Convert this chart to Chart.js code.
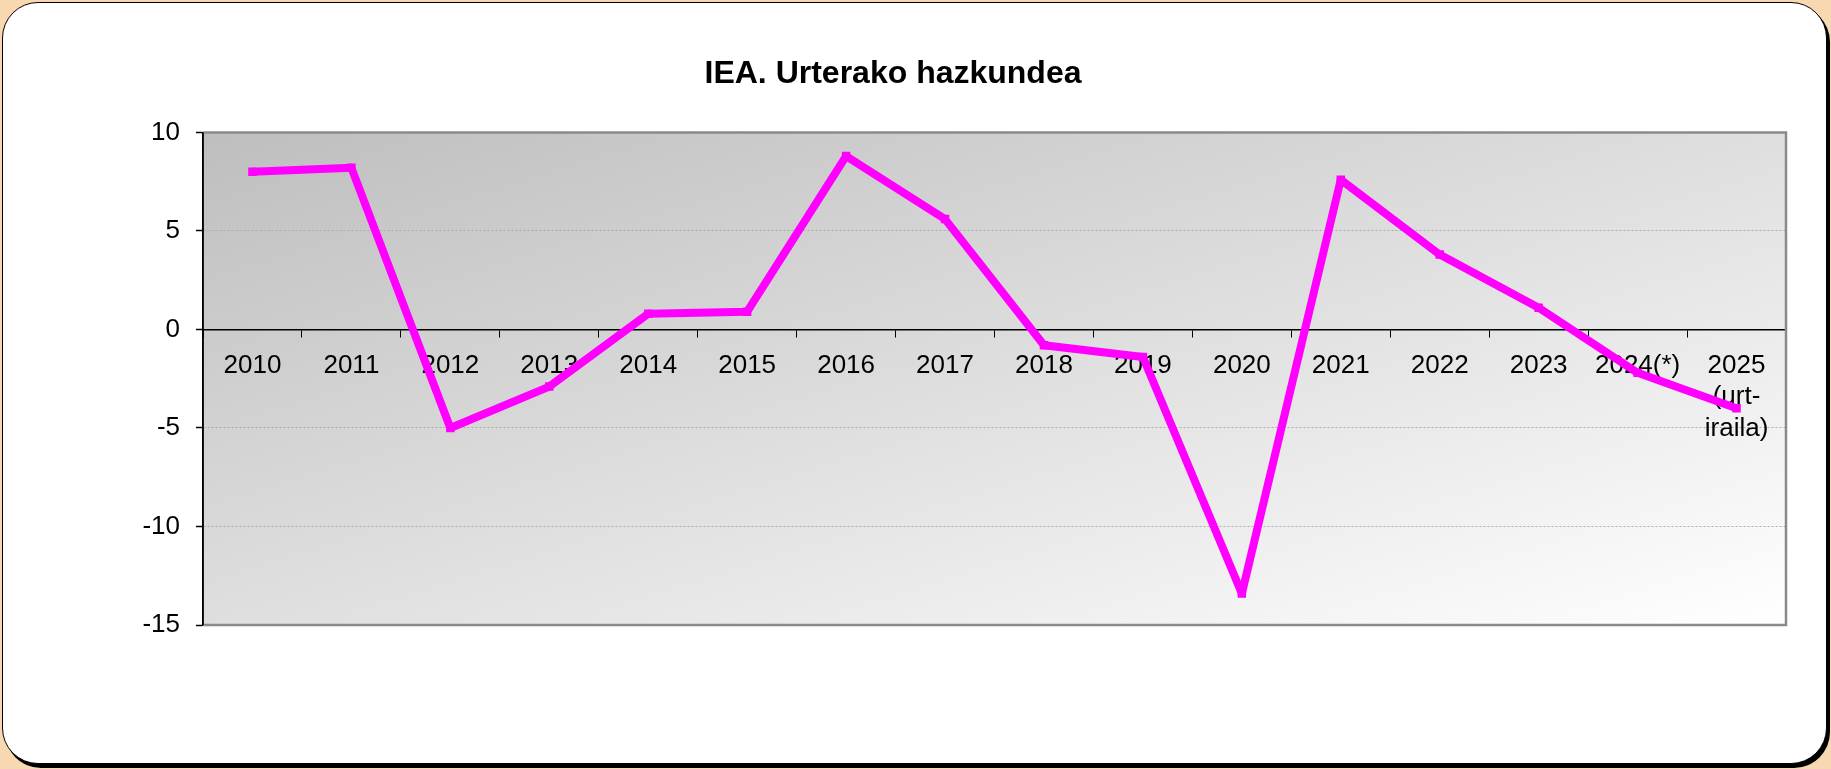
<!DOCTYPE html>
<html>
<head>
<meta charset="utf-8">
<script src="https://cdn.jsdelivr.net/npm/chart.js@4/dist/chart.umd.min.js"></script>
<style>
  html, body { margin: 0; padding: 0; background: #F8D8B0; width: 1831px; height: 769px; overflow: hidden; }
  #frame {
    position: absolute; left: 2px; top: 2px; width: 1825px; height: 762px;
    box-sizing: border-box; border: 1.5px solid #000; border-radius: 36px;
    background: #fff; box-shadow: 3px 4px 0 #000;
  }
  #c { position: absolute; left: 0; top: 0; }
</style>
</head>
<body>
<div id="frame"></div>
<canvas id="c" width="1831" height="769"></canvas>
<script>
const chartTitle = 'IEA. Urterako hazkundea';
const categories = ['2010', '2011', '2012', '2013', '2014', '2015', '2016', '2017', '2018', '2019', '2020', '2021', '2022', '2023', '2024(*)', ['2025', '(urt-', 'iraila)']];
const growth = [8.0, 8.2, -5.0, -2.9, 0.8, 0.9, 8.8, 5.6, -0.8, -1.4, -13.4, 7.6, 3.8, 1.1, -2.2, -4.0];
const yTickValues = [10, 5, 0, -5, -10, -15];

const FONT = "'Liberation Sans', Arial, sans-serif";

const plotBackground = {
  id: 'plotBackground',
  beforeDraw(chart) {
    const { ctx, chartArea: a } = chart;
    ctx.save();
    ctx.translate(a.left, a.top);
    ctx.scale(a.right - a.left, a.bottom - a.top);
    const g = ctx.createLinearGradient(0, 0, 1, 1);
    g.addColorStop(0, '#BEBEBE');
    g.addColorStop(1, '#FFFFFF');
    ctx.fillStyle = g;
    ctx.fillRect(0, 0, 1, 1);
    ctx.restore();
  },
  beforeDatasetsDraw(chart) {
    const { ctx, chartArea: a } = chart;
    ctx.save();
    ctx.strokeStyle = '#8A8A8A';
    ctx.lineWidth = 2.5;
    ctx.beginPath();
    ctx.moveTo(a.left, a.top);
    ctx.lineTo(a.right, a.top);
    ctx.lineTo(a.right, a.bottom);
    ctx.lineTo(a.left, a.bottom);
    ctx.stroke();
    ctx.strokeStyle = '#000';
    ctx.lineWidth = 1.5;
    ctx.beginPath();
    ctx.moveTo(a.left, a.top);
    ctx.lineTo(a.left, a.bottom);
    ctx.stroke();
    ctx.restore();
  }
};

new Chart(document.getElementById('c'), {
  type: 'line',
  data: {
    labels: categories,
    datasets: [{
      data: growth,
      borderColor: '#FF00FF',
      backgroundColor: '#FF00FF',
      borderWidth: 8,
      borderJoinStyle: 'bevel',
      tension: 0,
      pointStyle: 'rect',
      pointRadius: 6,
      pointBorderWidth: 0,
      pointBackgroundColor: '#FF00FF',
      fill: false
    }]
  },
  options: {
    responsive: false,
    animation: false,
    devicePixelRatio: 1,
    layout: { padding: { top: 0, left: 0, right: 45, bottom: 144 } },
    plugins: {
      legend: { display: false },
      tooltip: { enabled: false },
      title: {
        display: true,
        text: chartTitle,
        color: '#000',
        font: { family: FONT, size: 32, weight: 'bold' },
        padding: { top: 55, bottom: 39 }
      }
    },
    scales: {
      x: {
        type: 'category',
        position: { y: 0 },
        offset: true,
        grid: {
          offset: true,
          drawOnChartArea: false,
          drawTicks: true,
          tickLength: 7,
          tickColor: '#000',
          color: '#000'
        },
        border: { display: true, color: '#000', width: 1.5 },
        ticks: {
          color: '#000',
          font: { family: FONT, size: 26 },
          padding: 14,
          maxRotation: 0,
          minRotation: 0,
          autoSkip: false
        }
      },
      y: {
        min: -15,
        max: 10,
        afterBuildTicks(scale) { scale.ticks = yTickValues.map(v => ({ value: v })); },
        afterFit(scale) { scale.width = 203; },
        grid: {
          color: (ctx) => (ctx.tick && (ctx.tick.value === 10 || ctx.tick.value === -15)) ? 'rgba(0,0,0,0)' : '#ABABAB',
          lineWidth: 1,
          tickLength: 7,
          tickColor: '#000',
          tickBorderDash: [],
          tickWidth: 1.5
        },
        border: { display: true, color: '#000', width: 1.5, dash: [2, 2] },
        ticks: {
          color: '#000',
          font: { family: FONT, size: 26 },
          padding: 16
        }
      }
    }
  },
  plugins: [plotBackground]
});
</script>
</body>
</html>
